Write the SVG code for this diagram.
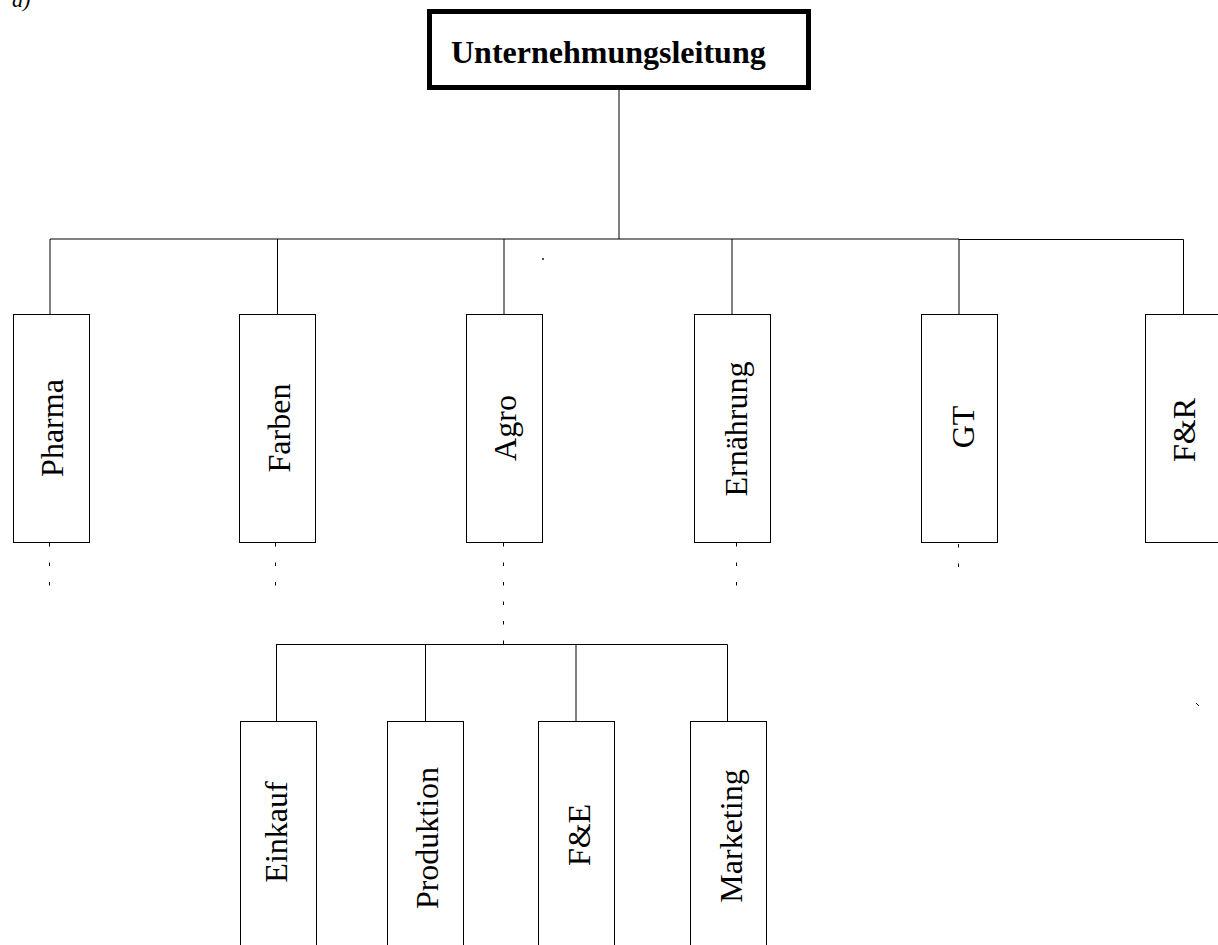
<svg xmlns="http://www.w3.org/2000/svg" width="1218" height="945" viewBox="0 0 1218 945">
  <style>
    .box { fill: #fff; stroke: #000; stroke-width: 1; }
    .top { fill: #fff; stroke: #000; stroke-width: 5; }
    .lbl { font-family: "Liberation Serif", "Times New Roman", serif; font-size: 32px; fill: #000; text-anchor: middle; }
    .head { font-family: "Liberation Serif", "Times New Roman", serif; font-size: 32px; font-weight: bold; fill: #000; }
    .ln { stroke: #000; stroke-width: 1; fill: none; }
    .dot { stroke: #000; stroke-width: 1; fill: none; stroke-dasharray: 3.5 16; }
  </style>
  <rect width="1218" height="945" fill="#fff"/>

  <text x="12" y="7" font-family="Liberation Serif, serif" font-style="italic" font-size="22">a)</text>

  <!-- connectors -->
  <g id="connectors">
    <line class="ln" x1="619" y1="90" x2="619" y2="239"/>
    <line class="ln" x1="50" y1="239" x2="959" y2="239"/>
    <line class="ln" x1="959" y1="239.5" x2="1183.5" y2="239.5"/>
    <line class="ln" x1="50" y1="239" x2="50" y2="314"/>
    <line class="ln" x1="277.5" y1="239" x2="277.5" y2="314"/>
    <line class="ln" x1="504" y1="239" x2="504" y2="314"/>
    <line class="ln" x1="732" y1="239" x2="732" y2="314"/>
    <line class="ln" x1="959" y1="239" x2="959" y2="314"/>
    <line class="ln" x1="1183.5" y1="239.5" x2="1183.5" y2="314"/>

    <line class="dot" x1="49.5" y1="543" x2="49.5" y2="586"/>
    <line class="dot" x1="275.5" y1="543" x2="275.5" y2="586"/>
    <line class="dot" x1="503.5" y1="543" x2="503.5" y2="644"/>
    <line class="dot" x1="736.5" y1="543" x2="736.5" y2="586"/>
    <line class="dot" x1="958.5" y1="544" x2="958.5" y2="568"/>

    <line class="ln" x1="276" y1="644.5" x2="727.5" y2="644.5"/>
    <line class="ln" x1="276.5" y1="644.5" x2="276.5" y2="721"/>
    <line class="ln" x1="425.5" y1="644.5" x2="425.5" y2="721"/>
    <line class="ln" x1="576" y1="644.5" x2="576" y2="721"/>
    <line class="ln" x1="727.5" y1="644.5" x2="727.5" y2="721"/>

    <!-- small stray marks -->
    <rect x="542" y="258" width="2" height="2" fill="#555"/>
    <rect x="1174" y="485" width="2" height="2" fill="#555"/>
    <line class="ln" x1="1196" y1="703" x2="1199" y2="706" stroke="#444"/>
  </g>

  <g id="n-leitung">
    <rect class="top" x="429.5" y="11.5" width="379" height="76"/>
    <text class="head" x="451" y="63">Unternehmungsleitung</text>
  </g>

  <g id="n-pharma">
    <rect class="box" x="13.5" y="314.5" width="76" height="228"/>
    <text class="lbl" transform="translate(63 428) rotate(-90)">Pharma</text>
  </g>
  <g id="n-farben">
    <rect class="box" x="239.5" y="314.5" width="76" height="228"/>
    <text class="lbl" transform="translate(290 428) rotate(-90)">Farben</text>
  </g>
  <g id="n-agro">
    <rect class="box" x="466.5" y="314.5" width="76" height="228"/>
    <text class="lbl" transform="translate(516 428) rotate(-90)">Agro</text>
  </g>
  <g id="n-ernaehrung">
    <rect class="box" x="694.5" y="314.5" width="76" height="228"/>
    <text class="lbl" transform="translate(747 429) rotate(-90)">Ernährung</text>
  </g>
  <g id="n-gt">
    <rect class="box" x="921.5" y="314.5" width="76" height="228"/>
    <text class="lbl" transform="translate(974 427) rotate(-90)">GT</text>
  </g>
  <g id="n-fr">
    <rect class="box" x="1145.5" y="314.5" width="76" height="228"/>
    <text class="lbl" transform="translate(1195 430) rotate(-90)">F&amp;R</text>
  </g>

  <g id="n-einkauf">
    <rect class="box" x="240.5" y="721.5" width="76" height="240"/>
    <text class="lbl" transform="translate(287 832) rotate(-90)">Einkauf</text>
  </g>
  <g id="n-produktion">
    <rect class="box" x="387.5" y="721.5" width="76" height="240"/>
    <text class="lbl" transform="translate(438 838) rotate(-90)">Produktion</text>
  </g>
  <g id="n-fe">
    <rect class="box" x="538.5" y="721.5" width="76" height="240"/>
    <text class="lbl" transform="translate(590 835) rotate(-90)">F&amp;E</text>
  </g>
  <g id="n-marketing">
    <rect class="box" x="690.5" y="721.5" width="76" height="240"/>
    <text class="lbl" transform="translate(742 836) rotate(-90)">Marketing</text>
  </g>
</svg>
